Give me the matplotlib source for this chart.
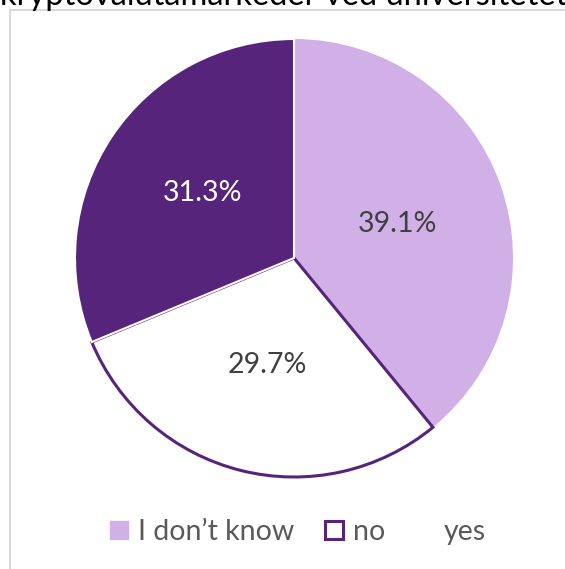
import matplotlib
matplotlib.use("Agg")
import matplotlib.pyplot as plt
from matplotlib.patches import Rectangle, Patch

# data
categories = ["I don\u2019t know", "no", "yes"]
shares = [39.1, 29.7, 31.3]
title = "kryptovalutamarkeder ved universitetet"

LIGHT = "#D1B0E8"
DARK = "#56247A"

plt.rcParams["font.family"] = ["Lato", "DejaVu Sans"]

W, H = 565, 569
fig = plt.figure(figsize=(W / 100, H / 100), dpi=100)

# chart-area border, cropped at the right and bottom like the source
fig.patches.append(Rectangle((10 / W, -0.1), 1.2, (H - 10) / H + 0.1,
                             transform=fig.transFigure, fill=False,
                             edgecolor="#D9D9D9", linewidth=1.5))

# title, mostly cut off at the top
fig.text(0.0, 1 - 5 / H, title, fontsize=23.5, color="black",
         ha="left", va="baseline")

cx, cy, r = 294, 258, 219
ax = fig.add_axes([(cx - r) / W, (H - cy - r) / H, 2 * r / W, 2 * r / H])
wedges, _ = ax.pie(shares, startangle=90, counterclock=False,
                   colors=[LIGHT, "white", DARK])
wedges[0].set_linewidth(0)
wedges[1].set_edgecolor(DARK)
wedges[1].set_linewidth(2.2)
wedges[1].set_zorder(3)
wedges[2].set_edgecolor("white")
wedges[2].set_linewidth(1.5)
wedges[2].set_zorder(4)
ax.set_xlim(-1.0, 1.0)
ax.set_ylim(-1.0, 1.0)
ax.set_aspect("equal")
ax.axis("off")

# percentage labels
label_pos = [(397, 224), (267, 365), (203, 193)]
label_col = ["#404040", "#404040", "white"]
for v, (px, py), c in zip(shares, label_pos, label_col):
    fig.text(px / W, 1 - py / H, f"{v:.1f}%", fontsize=20.5, color=c,
             ha="center", va="center")

# legend: the "yes" key is drawn white in the source, so it is invisible
handles = [Patch(facecolor=LIGHT, edgecolor=LIGHT),
           Patch(facecolor="white", edgecolor=DARK, linewidth=2.2),
           Patch(facecolor="white", edgecolor="white")]
leg = fig.legend(handles, categories, loc="center", ncol=3,
                 bbox_to_anchor=(298 / W, 1 - 532 / H), frameon=False,
                 fontsize=20.5, labelcolor="#595959", handlelength=0.62,
                 handleheight=0.62, handletextpad=0.35, columnspacing=1.1)

fig.savefig("out.png", dpi=100)
